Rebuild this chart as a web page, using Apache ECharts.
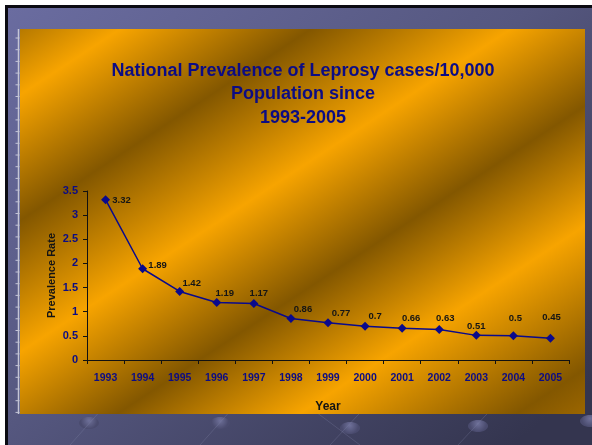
<!DOCTYPE html>
<html><head><meta charset="utf-8">
<script src="https://cdn.jsdelivr.net/npm/echarts@6/dist/echarts.min.js"></script>
<style>html,body{margin:0;padding:0;background:#fff}#c{width:592px;height:445px}</style>
</head><body><div id="c"></div>
<script>
// ---- data ----
const years = ['1993','1994','1995','1996','1997','1998','1999','2000','2001','2002','2003','2004','2005'];
const prevalence = [3.32, 1.89, 1.42, 1.19, 1.17, 0.86, 0.77, 0.7, 0.66, 0.63, 0.51, 0.5, 0.45];
const titleLines = ['National Prevalence of Leprosy cases/10,000', 'Population since', '1993-2005'];
const yAxisName = 'Prevalence Rate';
const xAxisName = 'Year';

// ---- style (label placement relative to each marker) ----
const labelShift = [[16,1],[15,-3],[12,-8],[8,-9],[5,-10],[12,-9],[13,-9],[10,-10],[9,-10],[6,-11],[0,-9],[2,-17],[1,-21]];

const FONT = '"Liberation Sans", Arial, sans-serif';
const NAVY = '#0c0c84';

const chart = echarts.init(document.getElementById('c'), null, {renderer: 'canvas'});

const graphics = [];
// white margin + black frame + slide background
graphics.push({type:'rect', z:-30, silent:true, shape:{x:0,y:0,width:592,height:445}, style:{fill:'#ffffff'}});
graphics.push({type:'rect', z:-29, silent:true, shape:{x:5,y:5,width:587,height:440}, style:{fill:'#0b0b12'}});
graphics.push({type:'rect', z:-28, silent:true, shape:{x:8,y:8,width:584,height:437},
  style:{fill:{type:'linear', global:true, x:8, y:8, x2:420, y2:520,
    colorStops:[{offset:0,color:'#6a6ca0'},{offset:0.5,color:'#55577f'},{offset:1,color:'#34354f'}]}}});
// decorative ellipses
[[89,423],[220,423],[350,428],[478,426],[590,421]].forEach(function(p){
  graphics.push({type:'ellipse', z:-27, silent:true, shape:{cx:p[0], cy:p[1], rx:10, ry:6},
    style:{fill:{type:'radial', x:0.5, y:0.3, r:0.7, colorStops:[{offset:0,color:'#6e7099'},{offset:1,color:'#4a4b6e'}]}}});
});
// faint diagonal lines
[[70,445,110,400],[200,445,240,400],[330,445,372,400],[458,445,500,400],[300,400,360,445]].forEach(function(l){
  graphics.push({type:'line', z:-27, silent:true, shape:{x1:l[0],y1:l[1],x2:l[2],y2:l[3]}, style:{stroke:'rgba(140,142,180,0.25)', lineWidth:1}});
});
// ruler line on the left
graphics.push({type:'line', z:-26, silent:true, shape:{x1:18.5,y1:29,x2:18.5,y2:414}, style:{stroke:'#c4c5d6', lineWidth:1.5}});
for (let y = 38; y < 414; y += 11.7) {
  graphics.push({type:'line', z:-26, silent:true, shape:{x1:15.5,y1:y,x2:19.5,y2:y}, style:{stroke:'#c4c5d6', lineWidth:1}});
}
// gold panel
graphics.push({type:'rect', z:-25, silent:true, shape:{x:20,y:29,width:565,height:385},
  style:{fill:{type:'linear', global:true, x:0, y:0, x2:385, y2:584.5,
    colorStops:[
      {offset:0.0, color:'#8c5e00'},
      {offset:0.129, color:'#f7a400'},
      {offset:0.279, color:'#835700'},
      {offset:0.436, color:'#f7a400'},
      {offset:0.586, color:'#835700'},
      {offset:0.729, color:'#f7a400'},
      {offset:0.90, color:'#835700'},
      {offset:1.0, color:'#b07300'}
    ]}}});
// title lines
const titleY = [71, 94.5, 118];
titleLines.forEach(function(t, i){
  graphics.push({type:'text', z:5, silent:true, style:{text:t, x:303, y:titleY[i], textAlign:'center', textVerticalAlign:'middle',
    font:'bold 18px ' + FONT, fill:NAVY}});
});

const seriesData = prevalence.map(function(v, i){
  return {value: v, label: {offset: labelShift[i]}};
});

chart.setOption({
  animation: false,
  backgroundColor: 'transparent',
  graphic: graphics,
  grid: {left: 87, right: 23, top: 191, bottom: 85, containLabel: false},
  xAxis: {
    type: 'category',
    data: years,
    boundaryGap: true,
    name: xAxisName,
    nameLocation: 'middle',
    nameGap: 41,
    nameMoveOverlap: false,
    nameTextStyle: {color:'#141414', fontFamily: FONT, fontWeight:'bold', fontSize: 12},
    axisLine: {show:true, lineStyle:{color:'#111', width:1}},
    axisTick: {show:true, alignWithLabel:false, length:4, lineStyle:{color:'#111'}},
    axisLabel: {color: NAVY, fontFamily: FONT, fontWeight:'bold', fontSize: 10.5, margin: 13, interval: 0},
    splitLine: {show:false}
  },
  yAxis: {
    type: 'value',
    min: 0, max: 3.5, interval: 0.5,
    name: yAxisName,
    nameLocation: 'middle',
    nameGap: 30,
    nameMoveOverlap: false,
    nameRotate: 90,
    nameTextStyle: {color:'#141414', fontFamily: FONT, fontWeight:'bold', fontSize: 11},
    axisLine: {show:true, lineStyle:{color:'#111', width:1}},
    axisTick: {show:true, length:4, lineStyle:{color:'#111'}},
    axisLabel: {color: NAVY, fontFamily: FONT, fontWeight:'bold', fontSize: 11, margin: 9},
    splitLine: {show:false}
  },
  series: [{
    type: 'line',
    data: seriesData,
    symbol: 'diamond',
    symbolSize: 9,
    lineStyle: {color:'#0a0a8c', width:1.5},
    itemStyle: {color:'#0a0a8c'},
    label: {show:true, position:'inside', color:'#151515', fontFamily: FONT, fontWeight:'bold', fontSize: 9.5},
    z: 10
  }]
});
</script>
</body></html>
